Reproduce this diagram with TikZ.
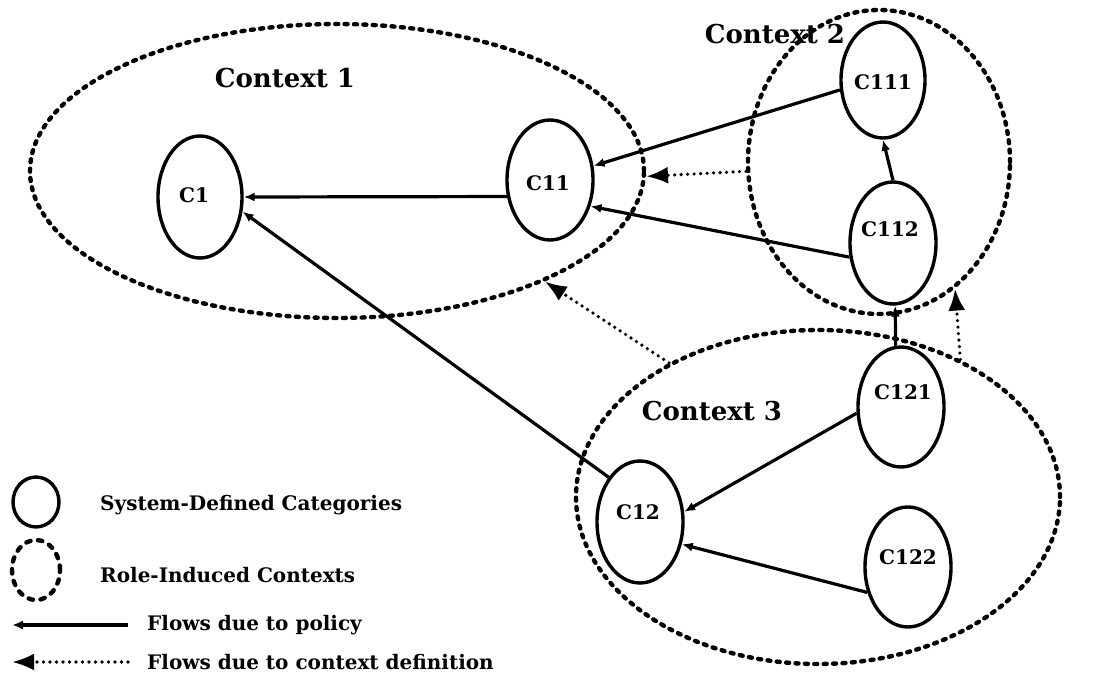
\documentclass[tikz,border=0pt]{standalone}
\usepackage{fontspec}
\setmainfont{DejaVu Serif}
\usetikzlibrary{shapes.geometric,arrows.meta}
\begin{document}
\begin{tikzpicture}[x=1pt,y=-1pt,
  cat/.style={ellipse,draw,line width=3.4pt,inner sep=0pt,minimum width=86pt,minimum height=120pt},
  ctx/.style={ellipse,draw,line width=4.4pt,line cap=round,dash pattern=on 3pt off 6.4pt,inner sep=0pt},
  catlbl/.style={font=\bfseries\fontsize{20}{20}\selectfont,inner sep=0pt},
  ctxlbl/.style={font=\bfseries\fontsize{26}{26}\selectfont,inner sep=0pt},
  leglbl/.style={font=\bfseries\fontsize{20}{20}\selectfont,inner sep=0pt,anchor=west},
  policy/.style={line width=3.2pt,-{Latex[length=11pt,width=9pt]}},
  ctxflow/.style={line width=3.6pt,line cap=round,dash pattern=on 0pt off 6.5pt,-{Latex[length=22pt,width=17pt]}},
]
\useasboundingbox (0,0) rectangle (1095,674);

% role-induced contexts
\node[ctx,minimum width=614pt,minimum height=294pt] (ctx1) at (337,171) {};
\node[ctxlbl] (ctx1lbl) at (285,78) {Context 1};
\node[ctxlbl] (ctx2lbl) at (775,34) {Context 2};
\node[ctx,minimum width=262pt,minimum height=304pt] (ctx2) at (879,162) {};
\node[ctx,minimum width=484pt,minimum height=334pt] (ctx3) at (818,497) {};
\node[ctxlbl] (ctx3lbl) at (712,411) {Context 3};

% system-defined categories
\node[cat,minimum width=84pt,minimum height=122pt] (c1) at (200,197) {};
\node[catlbl] (c1lbl) at (194,195) {C1};
\node[cat] (c11) at (550,180) {};
\node[catlbl] (c11lbl) at (548,183) {C11};
\node[cat,minimum width=84pt,minimum height=116pt] (c111) at (883,80) {};
\node[catlbl] (c111lbl) at (883,82) {C111};
\node[cat,minimum height=122pt] (c112) at (893,243) {};
\node[catlbl] (c112lbl) at (890,229) {C112};
\node[cat] (c121) at (901,407) {};
\node[catlbl] (c121lbl) at (903,392) {C121};
\node[cat] (c122) at (908,567) {};
\node[catlbl] (c122lbl) at (908,557) {C122};
\node[cat,minimum height=122pt] (c12) at (640,522) {};
\node[catlbl] (c12lbl) at (638,512) {C12};

% flows due to policy
\draw[policy] (c11.201.6) -- (c1.0);
\draw[policy] (c12.125) -- (c1.341.6);
\draw[policy] (c111.193.7) -- (c11.18.4);
\draw[policy] (c112.198) -- (c11.327.5);
\draw[policy] (c112.north) -- (c111.south);
\draw[policy] (c121.95) -- (c112.272);
\draw[policy] (c121.188) -- (c12.13);
\draw[policy] (c122.212) -- (c12.332);

% flows due to context definition
\draw[ctxflow] (ctx2.184.8) -- (ctx1.359.4);
\draw[ctxflow] (ctx3.138.9) -- (ctx1.332.3);
\draw[ctxflow] (ctx3.44) -- (ctx2.301.1);

% legend
\node[cat,minimum width=46pt,minimum height=50pt] (lgcat) at (36,502) {};
\node[leglbl] (lgcatlbl) at (100,505) {System-Defined Categories};
\node[ctx,dash pattern=on 4.5pt off 7.5pt,minimum width=48pt,minimum height=60pt] (lgctx) at (36,570) {};
\node[leglbl] (lgctxlbl) at (100,575) {Role-Induced Contexts};
\coordinate (lgpolA) at (128,625);
\coordinate (lgpolB) at (12,625);
\draw[policy] (lgpolA) -- (lgpolB);
\node[leglbl] (lgpollbl) at (147,625) {Flows due to policy};
\coordinate (lgflowA) at (128,662);
\coordinate (lgflowB) at (12,662);
\draw[ctxflow] (lgflowA) -- (lgflowB);
\node[leglbl] (lgflowlbl) at (147,662) {Flows due to context definition};
\end{tikzpicture}
\end{document}
